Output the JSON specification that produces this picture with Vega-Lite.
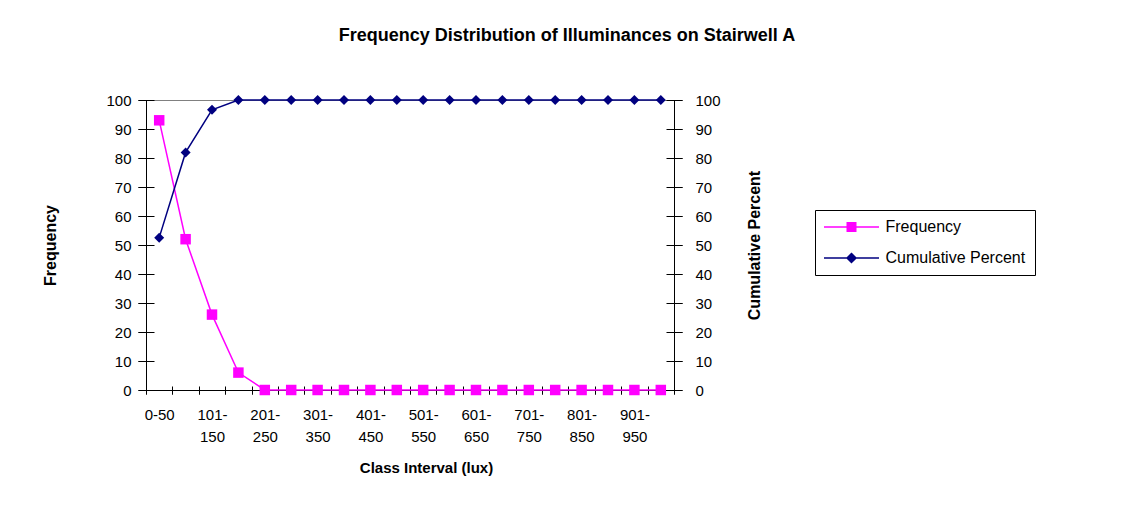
{
  "$schema": "https://vega.github.io/schema/vega-lite/v6.json",
  "width": 528,
  "height": 290,
  "autosize": "none",
  "padding": {"left": 146, "top": 100, "right": 448, "bottom": 115},
  "background": "white",
  "title": {
    "text": "Frequency Distribution of Illuminances on Stairwell A",
    "font": "Liberation Sans",
    "fontSize": 18,
    "fontWeight": "bold",
    "color": "black",
    "anchor": "middle",
    "frame": "group",
    "dx": 157,
    "offset": 48
  },
  "data": {
    "values": [
      {"interval": "0-50", "frequency": 93, "cumulative": 52.54},
      {"interval": "51-100", "frequency": 52, "cumulative": 81.92},
      {"interval": "101-150", "frequency": 26, "cumulative": 96.61},
      {"interval": "151-200", "frequency": 6, "cumulative": 100},
      {"interval": "201-250", "frequency": 0, "cumulative": 100},
      {"interval": "251-300", "frequency": 0, "cumulative": 100},
      {"interval": "301-350", "frequency": 0, "cumulative": 100},
      {"interval": "351-400", "frequency": 0, "cumulative": 100},
      {"interval": "401-450", "frequency": 0, "cumulative": 100},
      {"interval": "451-500", "frequency": 0, "cumulative": 100},
      {"interval": "501-550", "frequency": 0, "cumulative": 100},
      {"interval": "551-600", "frequency": 0, "cumulative": 100},
      {"interval": "601-650", "frequency": 0, "cumulative": 100},
      {"interval": "651-700", "frequency": 0, "cumulative": 100},
      {"interval": "701-750", "frequency": 0, "cumulative": 100},
      {"interval": "751-800", "frequency": 0, "cumulative": 100},
      {"interval": "801-850", "frequency": 0, "cumulative": 100},
      {"interval": "851-900", "frequency": 0, "cumulative": 100},
      {"interval": "901-950", "frequency": 0, "cumulative": 100},
      {"interval": "951-1000", "frequency": 0, "cumulative": 100}
    ]
  },
  "layer": [
    {
      "layer": [
        {"mark": {"type": "line", "color": "#FF00FF", "strokeWidth": 1.5}},
        {"mark": {"type": "point", "shape": "square", "filled": true, "size": 110, "color": "#FF00FF", "opacity": 1}}
      ],
      "encoding": {
        "x": {
          "field": "interval", "type": "nominal", "sort": null, "bandPosition": 0.5,
          "scale": {"type": "band", "paddingInner": 0, "paddingOuter": 0},
          "axis": {
            "orient": "bottom", "title": "Class Interval (lux)", "tickBand": "extent", "tickSize": 4,
            "tickColor": "black", "domainColor": "black", "labelAngle": 0, "labelFontSize": 15,
            "labelColor": "black", "labelPadding": 13, "labelLineHeight": 22, "labelOverlap": false,
            "labelBound": false, "grid": false,
            "labelExpr": "datum.value == '0-50' ? '0-50' : (indexof(['101-150','201-250','301-350','401-450','501-550','601-650','701-750','801-850','901-950'], datum.value) >= 0 ? [split(datum.value, '-')[0] + '-', split(datum.value, '-')[1]] : '')",
            "titleFontSize": 15, "titleFontWeight": "bold", "titleColor": "black", "titlePadding": 16, "titleX": 280
          }
        },
        "y": {
          "field": "frequency", "type": "quantitative", "scale": {"domain": [0, 100]},
          "axis": {
            "orient": "left", "values": [0, 10, 20, 30, 40, 50, 60, 70, 80, 90, 100], "tickSize": 8,
            "tickColor": "black", "domainColor": "black", "labelFontSize": 15, "labelColor": "black",
            "labelPadding": 7, "grid": false, "title": "Frequency", "titleFontSize": 16,
            "titleFontWeight": "bold", "titleColor": "black", "titleX": -88, "titleY": 145,
            "titleAngle": 270, "titleBaseline": "bottom", "titleAlign": "center"
          }
        }
      }
    },
    {
      "layer": [
        {"mark": {"type": "line", "color": "#000080", "strokeWidth": 1.5}},
        {"mark": {"type": "point", "shape": "diamond", "filled": true, "size": 100, "color": "#000080", "opacity": 1}}
      ],
      "encoding": {
        "x": {
          "field": "interval", "type": "nominal", "sort": null, "bandPosition": 0.5,
          "scale": {"type": "band", "paddingInner": 0, "paddingOuter": 0},
          "axis": {
            "orient": "bottom", "offset": -4, "tickSize": 8, "tickBand": "extent", "domain": false,
            "labels": false, "title": null, "tickColor": "black", "grid": false
          }
        },
        "y": {
          "field": "cumulative", "type": "quantitative", "scale": {"domain": [0, 100]},
          "axis": {
            "orient": "right", "values": [0, 10, 20, 30, 40, 50, 60, 70, 80, 90, 100], "tickSize": 8,
            "tickColor": "black", "domainColor": "black", "labelFontSize": 15, "labelColor": "black",
            "labelPadding": 13, "grid": false, "title": "Cumulative Percent", "titleFontSize": 16,
            "titleFontWeight": "bold", "titleColor": "black", "titleX": 88, "titleY": 145,
            "titleAngle": 270, "titleBaseline": "bottom", "titleAlign": "center"
          }
        }
      }
    },
    {
      "mark": {"type": "point", "opacity": 0},
      "encoding": {
        "y": {
          "field": "frequency", "type": "quantitative", "scale": {"domain": [0, 100]},
          "axis": {
            "orient": "left", "offset": -8, "tickSize": 16, "domain": false, "labels": false,
            "title": null, "values": [0, 10, 20, 30, 40, 50, 60, 70, 80, 90, 100], "grid": false, "tickColor": "black"
          }
        }
      }
    },
    {
      "mark": {"type": "point", "opacity": 0},
      "encoding": {
        "y": {
          "field": "cumulative", "type": "quantitative", "scale": {"domain": [0, 100]},
          "axis": {
            "orient": "right", "offset": -8, "tickSize": 16, "domain": false, "labels": false,
            "title": null, "values": [0, 10, 20, 30, 40, 50, 60, 70, 80, 90, 100], "grid": false, "tickColor": "black"
          }
        }
      }
    },
    {
      "transform": [{"filter": "false"}],
      "mark": {"type": "point", "filled": true, "opacity": 1},
      "encoding": {
        "color": {
          "datum": "Frequency", "type": "nominal",
          "scale": {"domain": ["Frequency", "Cumulative Percent"], "range": ["#FF00FF", "#000080"]},
          "legend": {"title": null}
        },
        "shape": {
          "datum": "Frequency", "type": "nominal",
          "scale": {"domain": ["Frequency", "Cumulative Percent"], "range": ["M-3.44,-0.094H3.44V0.094H-3.44Z M-0.625,-0.625H0.625V0.625H-0.625Z", "M-3.44,-0.094H3.44V0.094H-3.44Z M0,-0.69L0.69,0L0,0.69L-0.69,0Z"]},
          "legend": {"title": null}
        }
      }
    },
    {
      "transform": [{"filter": "false"}],
      "mark": {"type": "point", "filled": true, "opacity": 1},
      "encoding": {
        "color": {
          "datum": "Cumulative Percent", "type": "nominal",
          "scale": {"domain": ["Frequency", "Cumulative Percent"], "range": ["#FF00FF", "#000080"]},
          "legend": {"title": null}
        },
        "shape": {
          "datum": "Cumulative Percent", "type": "nominal",
          "scale": {"domain": ["Frequency", "Cumulative Percent"], "range": ["M-3.44,-0.094H3.44V0.094H-3.44Z M-0.625,-0.625H0.625V0.625H-0.625Z", "M-3.44,-0.094H3.44V0.094H-3.44Z M0,-0.69L0.69,0L0,0.69L-0.69,0Z"]},
          "legend": {"title": null}
        }
      }
    }
  ],
  "resolve": {"scale": {"x": "independent", "y": "independent"}},
  "config": {
    "font": "Liberation Sans",
    "view": {"stroke": "#808080", "strokeWidth": 1},
    "axis": {"labelFont": "Liberation Sans", "titleFont": "Liberation Sans"},
    "legend": {
      "orient": "none", "legendX": 669, "legendY": 110, "padding": 9,
      "strokeColor": "black", "strokeWidth": 1, "fillColor": "white", "cornerRadius": 0,
      "symbolSize": 256, "symbolStrokeWidth": 0, "symbolOffset": 19.5, "labelFont": "Liberation Sans",
      "labelFontSize": 16, "labelColor": "black", "labelOffset": 26, "rowPadding": 15, "labelLimit": 400
    }
  }
}
